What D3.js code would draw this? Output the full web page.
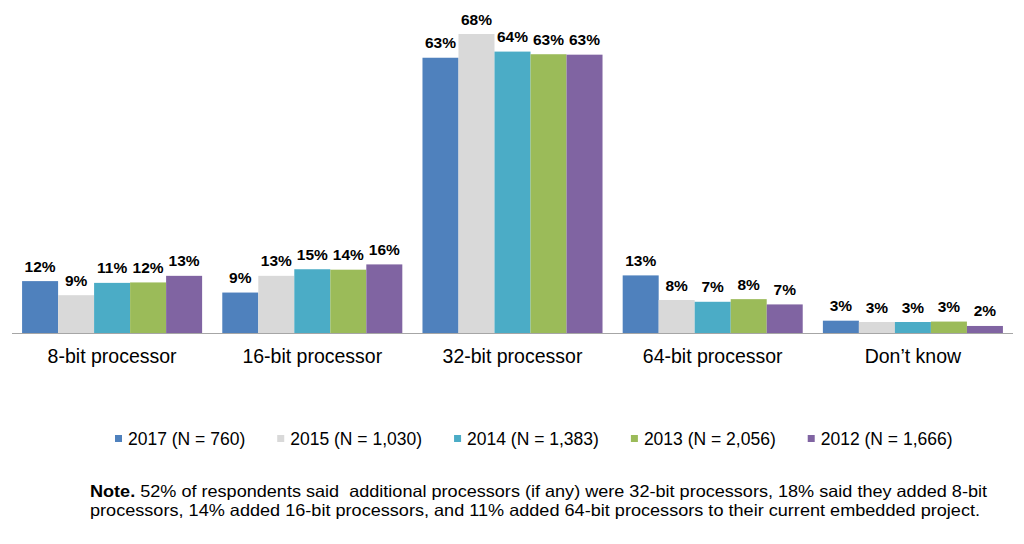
<!DOCTYPE html>
<html>
<head>
<meta charset="utf-8">
<script src="https://cdn.jsdelivr.net/npm/d3@7"></script>
<style>
  body { margin: 0; background: #fff; }
  svg { display: block; font-family: "Liberation Sans", Arial, sans-serif; }
</style>
</head>
<body>
<div id="chart"></div>
<script>
// Processor types used in current embedded project, by survey year
const categories = ['8-bit processor', '16-bit processor', '32-bit processor', '64-bit processor', 'Don\u2019t know'];
const seriesNames = ['2017 (N = 760)', '2015 (N = 1,030)', '2014 (N = 1,383)', '2013 (N = 2,056)', '2012 (N = 1,666)'];
const seriesColors = ['#4f81bd', '#d9d9d9', '#4bacc6', '#9bbb59', '#8064a2'];

// values in percent, one array per series (same order as categories)
const values2017 = [11.8, 9.2, 62.6, 13.1, 2.8];
const values2015 = [8.6, 13.0, 68.0, 7.5, 2.5];
const values2014 = [11.4, 14.5, 64.0, 7.1, 2.5];
const values2013 = [11.5, 14.4, 63.4, 7.7, 2.6];
const values2012 = [13.0, 15.6, 63.3, 6.5, 1.6];
const allValues = [values2017, values2015, values2014, values2013, values2012];

const noteLines = [
    ['Note.', ' 52% of respondents said  additional processors (if any) were 32-bit processors, 18% said they added 8-bit'],
    ['', 'processors, 14% added 16-bit processors, and 11% added 64-bit processors to their current embedded project.']
];

const width = 1024, height = 544;

const svg = d3.select('#chart')
    .append('svg')
    .attr('width', width)
    .attr('height', height);

// scales
const x0 = d3.scaleBand()
    .domain(categories)
    .range([12, 1013]);

const x1 = d3.scaleBand()
    .domain(seriesNames)
    .range([0, x0.bandwidth()])
    .paddingOuter(0.28);

const y = d3.scaleLinear()
    .domain([0, 68])
    .range([333, 34]);

// bars
const groups = svg.selectAll('.group')
    .data(categories)
    .enter()
    .append('g')
    .attr('class', 'group')
    .attr('transform', d => `translate(${x0(d)},0)`);

groups.each(function(cat, ci) {
    const g = d3.select(this);
    const data = seriesNames.map((s, si) => ({ series: s, value: allValues[si][ci], color: seriesColors[si] }));

    g.selectAll('rect')
        .data(data)
        .enter()
        .append('rect')
        .attr('x', d => x1(d.series))
        .attr('y', d => y(d.value))
        .attr('width', x1.bandwidth())
        .attr('height', d => y(0) - y(d.value))
        .attr('fill', d => d.color);

    g.selectAll('.value-label')
        .data(data)
        .enter()
        .append('text')
        .attr('class', 'value-label')
        .attr('x', d => x1(d.series) + x1.bandwidth() / 2)
        .attr('y', d => y(d.value) - 9.5)
        .attr('text-anchor', 'middle')
        .attr('font-size', '15.5px')
        .attr('font-weight', 'bold')
        .attr('fill', '#000')
        .text(d => Math.round(d.value) + '%');
});

// x axis line
svg.append('line')
    .attr('x1', x0.range()[0])
    .attr('x2', x0.range()[1])
    .attr('y1', y(0) + 0.5)
    .attr('y2', y(0) + 0.5)
    .attr('stroke', '#a6a6a6')
    .attr('stroke-width', 1.2);

// category labels
svg.selectAll('.cat-label')
    .data(categories)
    .enter()
    .append('text')
    .attr('class', 'cat-label')
    .attr('x', d => x0(d) + x0.bandwidth() / 2)
    .attr('y', 363)
    .attr('text-anchor', 'middle')
    .attr('font-size', '19.5px')
    .attr('fill', '#000')
    .text(d => d);

// legend
const legend = svg.append('g').attr('class', 'legend');
let lx = 115;
seriesNames.forEach((name, i) => {
    legend.append('rect')
        .attr('x', lx)
        .attr('y', 435)
        .attr('width', 7)
        .attr('height', 7)
        .attr('fill', seriesColors[i]);
    const t = legend.append('text')
        .attr('x', lx + 13)
        .attr('y', 445)
        .attr('font-size', '17.5px')
        .attr('fill', '#000')
        .text(name);
    lx += 13 + t.node().getComputedTextLength() + 32;
});

// note
const noteWidths = [897, 890];
noteLines.forEach((parts, i) => {
    const t = svg.append('text')
        .attr('x', 90)
        .attr('y', 496.5 + i * 19.5)
        .attr('font-size', '16.5px')
        .attr('fill', '#000')
        .attr('textLength', noteWidths[i])
        .attr('lengthAdjust', 'spacingAndGlyphs')
        .style('white-space', 'pre');
    if (parts[0]) t.append('tspan').attr('font-weight', 'bold').text(parts[0]);
    t.append('tspan').text(parts[1]);
});
</script>
</body>
</html>
